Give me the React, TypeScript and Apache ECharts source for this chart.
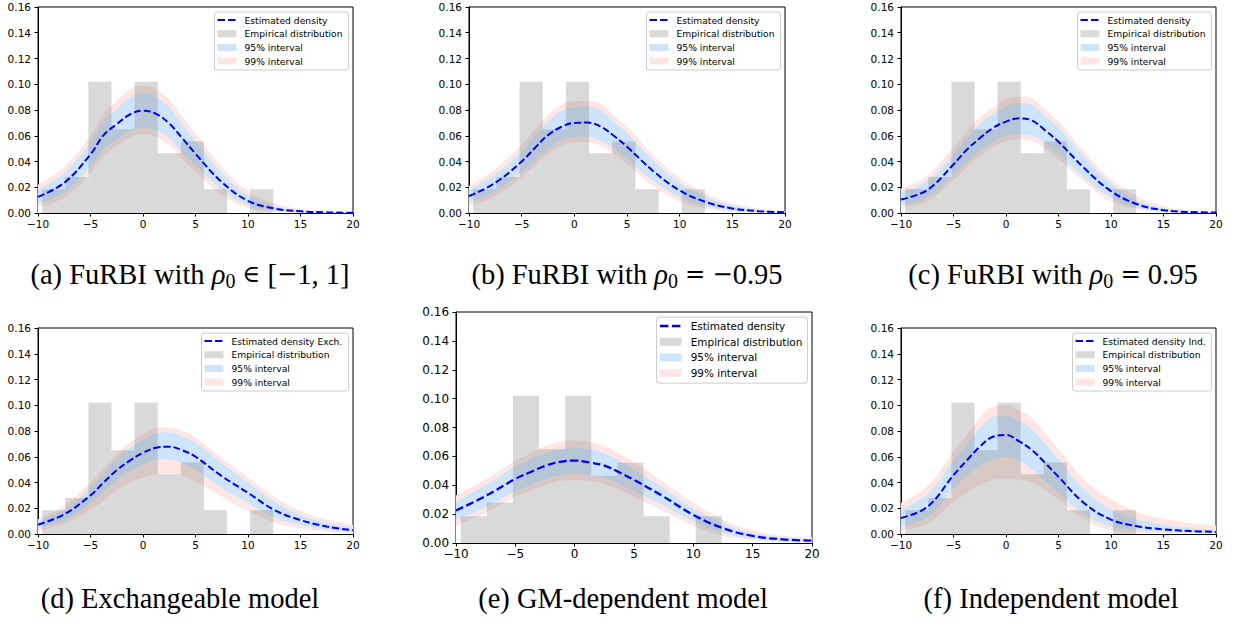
import React, { useEffect, useRef } from 'react';
import * as echarts from 'echarts';

// ---------- data ----------
const X = [-10, -7.5, -5, -3.75, -2.5, -1.25, 0, 1.25, 2.5, 3.75, 5, 7.5, 10, 12.5, 15, 17.5, 20];
const BIN_EDGES = [-9.6, -7.4, -5.2, -3.0, -0.8, 1.4, 3.6, 5.8, 8.0, 10.2, 12.4];
const BIN_HEIGHTS = [0.0185, 0.028, 0.102, 0.065, 0.102, 0.0465, 0.0555, 0.0185, 0, 0.0185];

// (a) FuRBI rho0 in [-1,1]
const densA = [0.0125, 0.0235, 0.0455, 0.0605, 0.069, 0.0765, 0.0795, 0.077, 0.0695, 0.058, 0.046, 0.024, 0.0095, 0.0035, 0.0013, 0.0005, 0.0002];
const hi95A = [0.018, 0.031, 0.055, 0.071, 0.081, 0.090, 0.093, 0.090, 0.082, 0.069, 0.056, 0.031, 0.0135, 0.0055, 0.0022, 0.0009, 0.0004];
const lo95A = [0.0075, 0.016, 0.036, 0.049, 0.057, 0.0635, 0.066, 0.064, 0.058, 0.047, 0.037, 0.018, 0.006, 0.002, 0.0007, 0.0002, 0.0001];
const hi99A = [0.022, 0.036, 0.060, 0.077, 0.087, 0.096, 0.099, 0.096, 0.088, 0.075, 0.062, 0.036, 0.017, 0.0075, 0.003, 0.0013, 0.0006];
const lo99A = [0.0045, 0.012, 0.031, 0.044, 0.052, 0.0585, 0.061, 0.059, 0.053, 0.042, 0.032, 0.014, 0.004, 0.0012, 0.0003, 0.0001, 0];

// (b) FuRBI rho0 = -0.95
const densB = [0.013, 0.0235, 0.040, 0.0505, 0.0605, 0.0668, 0.0700, 0.0702, 0.0672, 0.060, 0.0515, 0.0325, 0.0175, 0.0085, 0.0035, 0.0014, 0.0005];
const hi95B = [0.018, 0.030, 0.048, 0.060, 0.071, 0.079, 0.0822, 0.0825, 0.080, 0.071, 0.062, 0.041, 0.0235, 0.0125, 0.0058, 0.0025, 0.0010];
const lo95B = [0.008, 0.017, 0.032, 0.041, 0.050, 0.0565, 0.0588, 0.059, 0.056, 0.050, 0.042, 0.025, 0.012, 0.0052, 0.0018, 0.0006, 0.0002];
const hi99B = [0.021, 0.034, 0.053, 0.065, 0.076, 0.084, 0.0868, 0.087, 0.085, 0.076, 0.067, 0.045, 0.027, 0.015, 0.0075, 0.0035, 0.0015];
const lo99B = [0.005, 0.013, 0.028, 0.037, 0.046, 0.052, 0.0548, 0.055, 0.052, 0.046, 0.038, 0.021, 0.009, 0.0035, 0.001, 0.0003, 0.0001];

// (c) FuRBI rho0 = 0.95
const densC = [0.0105, 0.0178, 0.0377, 0.049, 0.058, 0.066, 0.071, 0.0735, 0.0717, 0.064, 0.0553, 0.0345, 0.017, 0.0068, 0.0022, 0.0008, 0.0003];
const hi95C = [0.016, 0.025, 0.046, 0.058, 0.069, 0.077, 0.083, 0.0855, 0.084, 0.075, 0.066, 0.043, 0.023, 0.010, 0.0038, 0.0014, 0.0005];
const lo95C = [0.006, 0.012, 0.030, 0.039, 0.048, 0.055, 0.060, 0.061, 0.060, 0.054, 0.046, 0.027, 0.012, 0.004, 0.0012, 0.0004, 0.0001];
const hi99C = [0.019, 0.029, 0.051, 0.063, 0.074, 0.082, 0.088, 0.0905, 0.089, 0.080, 0.071, 0.047, 0.026, 0.013, 0.0055, 0.002, 0.0008];
const lo99C = [0.004, 0.009, 0.026, 0.035, 0.044, 0.051, 0.056, 0.057, 0.056, 0.050, 0.042, 0.024, 0.009, 0.003, 0.0007, 0.0002, 0];

// (d) Exchangeable model
const densD = [0.0073, 0.0153, 0.030, 0.040, 0.0496, 0.057, 0.063, 0.067, 0.0678, 0.065, 0.060, 0.045, 0.032, 0.0187, 0.0108, 0.0058, 0.0029];
const hi95D = [0.0095, 0.019, 0.036, 0.047, 0.058, 0.067, 0.073, 0.078, 0.079, 0.076, 0.071, 0.055, 0.040, 0.025, 0.015, 0.0085, 0.005];
const lo95D = [0.0045, 0.011, 0.024, 0.033, 0.042, 0.049, 0.054, 0.057, 0.058, 0.055, 0.050, 0.036, 0.024, 0.013, 0.007, 0.0035, 0.0015];
const hi99D = [0.0115, 0.022, 0.040, 0.051, 0.062, 0.071, 0.077, 0.082, 0.083, 0.080, 0.075, 0.059, 0.044, 0.029, 0.018, 0.011, 0.007];
const lo99D = [0.0025, 0.008, 0.019, 0.026, 0.034, 0.040, 0.044, 0.046, 0.047, 0.045, 0.041, 0.029, 0.018, 0.009, 0.0045, 0.002, 0.001];

// (e) GM-dependent model
const densE = [0.0225, 0.0326, 0.0444, 0.049, 0.0534, 0.0562, 0.0571, 0.0558, 0.0536, 0.049, 0.0437, 0.0321, 0.0194, 0.0102, 0.0049, 0.0025, 0.0017];
const hi95E = [0.029, 0.040, 0.053, 0.058, 0.062, 0.065, 0.066, 0.065, 0.062, 0.057, 0.051, 0.038, 0.024, 0.0135, 0.007, 0.0038, 0.0028];
const lo95E = [0.016, 0.025, 0.036, 0.040, 0.044, 0.047, 0.048, 0.047, 0.045, 0.041, 0.036, 0.026, 0.015, 0.007, 0.003, 0.0014, 0.0009];
const hi99E = [0.033, 0.044, 0.057, 0.062, 0.067, 0.070, 0.071, 0.070, 0.067, 0.062, 0.056, 0.042, 0.028, 0.016, 0.0088, 0.005, 0.004];
const lo99E = [0.012, 0.021, 0.032, 0.036, 0.040, 0.043, 0.0435, 0.043, 0.041, 0.037, 0.032, 0.022, 0.012, 0.005, 0.002, 0.0008, 0.0005];

// (f) Independent model
const densF = [0.0125, 0.021, 0.0457, 0.057, 0.0678, 0.0755, 0.0769, 0.072, 0.065, 0.055, 0.0444, 0.0236, 0.0112, 0.006, 0.0036, 0.0023, 0.0016];
const hi95F = [0.019, 0.031, 0.057, 0.070, 0.082, 0.091, 0.092, 0.088, 0.081, 0.070, 0.058, 0.034, 0.019, 0.0115, 0.007, 0.0045, 0.0032];
const lo95F = [0.006, 0.013, 0.035, 0.045, 0.053, 0.058, 0.060, 0.057, 0.050, 0.041, 0.032, 0.015, 0.006, 0.003, 0.0017, 0.001, 0.0007];
const hi99F = [0.024, 0.037, 0.064, 0.077, 0.090, 0.099, 0.100, 0.096, 0.090, 0.078, 0.066, 0.042, 0.027, 0.017, 0.012, 0.0085, 0.0065];
const lo99F = [0.003, 0.008, 0.025, 0.032, 0.038, 0.042, 0.043, 0.042, 0.040, 0.034, 0.027, 0.011, 0.003, 0.001, 0.0005, 0.0003, 0.0002];

const LEGEND_LABELS = ['Estimated density', 'Empirical distribution', '95% interval', '99% interval'];
const DENSITY_LABELS = ['Estimated density', 'Estimated density', 'Estimated density', 'Estimated density Exch.', 'Estimated density', 'Estimated density Ind.'];
const CAPTIONS = [
  '{n|(a) FuRBI with }{i|ρ}{s|0}{n| }{m|∈}{n| [}{m|−}{n|1, 1]}',
  '{n|(b) FuRBI with }{i|ρ}{s|0}{n| }{m|=}{n| }{m|−}{n|0.95}',
  '{n|(c) FuRBI with }{i|ρ}{s|0}{n| }{m|=}{n| 0.95}',
  '{n|(d) Exchangeable model}',
  '{n|(e) GM-dependent model}',
  '{n|(f) Independent model}',
];

// ---------- layout / style ----------
const GRIDS = [
  { left: 38, top: 7, width: 315, height: 206 },
  { left: 469, top: 7, width: 316, height: 206 },
  { left: 901, top: 7, width: 315, height: 206 },
  { left: 38, top: 328, width: 315, height: 206 },
  { left: 456, top: 312, width: 356, height: 231 },
  { left: 901, top: 328, width: 315, height: 206 },
];
const SCALE = [1, 1, 1, 1, 1.14, 1];
const LEGEND_W = [134, 134, 134, 147, 151, 139];
const CAPTION_POS = [[190, 274], [627, 274], [1053, 274], [180, 598], [623, 598], [1051, 598]];
const CAPTION_FS = 28.5;

const PINK = '#fde6e3';
const BLUE = '#cde4fb';
const GRAY = 'rgba(128,128,128,0.3)';
const LINE_BLUE = '#0000ff';

const PANELS = [
  { dens: densA, hi95: hi95A, lo95: lo95A, hi99: hi99A, lo99: lo99A },
  { dens: densB, hi95: hi95B, lo95: lo95B, hi99: hi99B, lo99: lo99B },
  { dens: densC, hi95: hi95C, lo95: lo95C, hi99: hi99C, lo99: lo99C },
  { dens: densD, hi95: hi95D, lo95: lo95D, hi99: hi99D, lo99: lo99D },
  { dens: densE, hi95: hi95E, lo95: lo95E, hi99: hi99E, lo99: lo99E },
  { dens: densF, hi95: hi95F, lo95: lo95F, hi99: hi99F, lo99: lo99F },
];

const fmtX = (v: number) => (v < 0 ? '\u2212' + Math.abs(v) : String(v));
const fmtY = (v: number) => v.toFixed(2);

function buildOption() {
  const grid = GRIDS.map((g) => ({
    ...g,
    show: true,
    borderColor: '#000',
    borderWidth: 1,
    backgroundColor: 'transparent',
  }));
  const xAxis = GRIDS.map((_, i) => ({
    type: 'value',
    gridIndex: i,
    min: -10,
    max: 20,
    interval: 5,
    axisLine: { show: true, onZero: false, lineStyle: { color: '#000', width: 1 } },
    axisTick: { show: true, length: 3.5, lineStyle: { color: '#000' } },
    axisLabel: { color: '#000', fontFamily: 'DejaVu Sans', fontSize: 10.5 * SCALE[i], margin: 5, formatter: fmtX },
    splitLine: { show: false },
  }));
  const yAxis = GRIDS.map((_, i) => ({
    type: 'value',
    gridIndex: i,
    min: 0,
    max: 0.16,
    interval: 0.02,
    axisLine: { show: true, onZero: false, lineStyle: { color: '#000', width: 1 } },
    axisTick: { show: true, length: 3.5, lineStyle: { color: '#000' } },
    axisLabel: { color: '#000', fontFamily: 'DejaVu Sans', fontSize: 10.5 * SCALE[i], margin: 7, formatter: fmtY },
    splitLine: { show: false },
  }));

  const series: any[] = [];
  const histData = BIN_HEIGHTS.map((h, k) => [BIN_EDGES[k], BIN_EDGES[k + 1], h]);
  PANELS.forEach((p, i) => {
    // layered filled areas (from 0 upward), each opaque, drawn in order
    const layers: [number[], string][] = [
      [p.hi99, PINK],
      [p.hi95, BLUE],
      [p.lo95, PINK],
      [p.lo99, '#ffffff'],
    ];
    layers.forEach(([arr, col]) => {
      series.push({
        type: 'line',
        xAxisIndex: i,
        yAxisIndex: i,
        smooth: 0.4,
        symbol: 'none',
        silent: true,
        lineStyle: { width: 0, opacity: 0 },
        areaStyle: { color: col, opacity: 1 },
        z: 1,
        data: X.map((x, k) => [x, arr[k]]),
      });
    });
    series.push({
      type: 'custom',
      xAxisIndex: i,
      yAxisIndex: i,
      silent: true,
      z: 2,
      data: histData,
      encode: { x: [0, 1], y: 2 },
      renderItem: (params: any, api: any) => {
        const p0 = api.coord([api.value(0), api.value(2)]);
        const p1 = api.coord([api.value(1), 0]);
        return {
          type: 'rect',
          shape: { x: p0[0], y: p0[1], width: p1[0] - p0[0], height: p1[1] - p0[1] },
          style: { fill: GRAY },
        };
      },
    });
    series.push({
      type: 'line',
      xAxisIndex: i,
      yAxisIndex: i,
      smooth: 0.4,
      symbol: 'none',
      silent: true,
      z: 3,
      data: X.map((x, k) => [x, p.dens[k]]),
      lineStyle: { color: LINE_BLUE, width: 2 * SCALE[i], type: [7 * SCALE[i], 3 * SCALE[i]] },
    });
  });

  const graphic: any[] = [];
  GRIDS.forEach((g, i) => {
    const s = SCALE[i];
    const boxW = LEGEND_W[i];
    const boxH = 58 * s;
    const bx = g.left + g.width - 4.5 - boxW;
    const by = g.top + 5;
    graphic.push({
      type: 'rect',
      z: 100,
      shape: { x: bx, y: by, width: boxW, height: boxH, r: 2.5 },
      style: { fill: 'rgba(255,255,255,0.8)', stroke: '#cccccc', lineWidth: 1 },
    });
    const labels = [DENSITY_LABELS[i], LEGEND_LABELS[1], LEGEND_LABELS[2], LEGEND_LABELS[3]];
    const fills = [null, GRAY, BLUE, PINK];
    labels.forEach((lab, r) => {
      const cy = by + (8 + 13.7 * r) * s;
      if (r === 0) {
        graphic.push({
          type: 'line',
          z: 101,
          shape: { x1: bx + 3 * s, y1: cy, x2: bx + 22 * s, y2: cy },
          style: { stroke: LINE_BLUE, lineWidth: 2.2 * s, lineDash: [7.5 * s, 3 * s] },
        });
      } else {
        graphic.push({
          type: 'rect',
          z: 101,
          shape: { x: bx + 3 * s, y: cy - 3.5 * s, width: 19 * s, height: 7 * s },
          style: { fill: fills[r] },
        });
      }
      graphic.push({
        type: 'text',
        z: 101,
        x: bx + 30 * s,
        y: cy,
        style: {
          text: lab,
          fontSize: 9.2 * s,
          fontFamily: 'DejaVu Sans',
          fill: '#000',
          align: 'left',
          verticalAlign: 'middle',
        },
      });
    });
  });

  const fs = CAPTION_FS;
  CAPTIONS.forEach((c, i) => {
    graphic.push({
      type: 'text',
      z: 101,
      x: CAPTION_POS[i][0],
      y: CAPTION_POS[i][1],
      style: {
        text: c,
        align: 'center',
        verticalAlign: 'middle',
        fontSize: fs,
        fontFamily: 'Liberation Serif',
        fill: '#000',
        rich: {
          n: { fontSize: fs, fontFamily: 'Liberation Serif', lineHeight: 34, verticalAlign: 'middle', fill: '#000' },
          i: { fontSize: fs, fontFamily: 'Liberation Serif', fontStyle: 'italic', lineHeight: 34, verticalAlign: 'middle', fill: '#000' },
          m: { fontSize: fs * 0.85, fontFamily: 'DejaVu Serif', lineHeight: 34, verticalAlign: 'middle', fill: '#000' },
          s: { fontSize: fs * 0.7, fontFamily: 'Liberation Serif', lineHeight: 20, verticalAlign: 'bottom', fill: '#000' },
        },
      },
    });
  });

  return {
    animation: false,
    backgroundColor: '#ffffff',
    grid,
    xAxis,
    yAxis,
    series,
    graphic,
  };
}

export default function App() {
  const ref = useRef<HTMLDivElement>(null);
  useEffect(() => {
    if (!ref.current) return;
    const chart = echarts.init(ref.current, undefined, { renderer: 'svg' });
    chart.setOption(buildOption() as any);
    return () => chart.dispose();
  }, []);
  return (
    <div
      ref={ref}
      style={{ position: 'absolute', left: 0, top: 0, width: 1235, height: 618, background: '#fff' }}
    />
  );
}
